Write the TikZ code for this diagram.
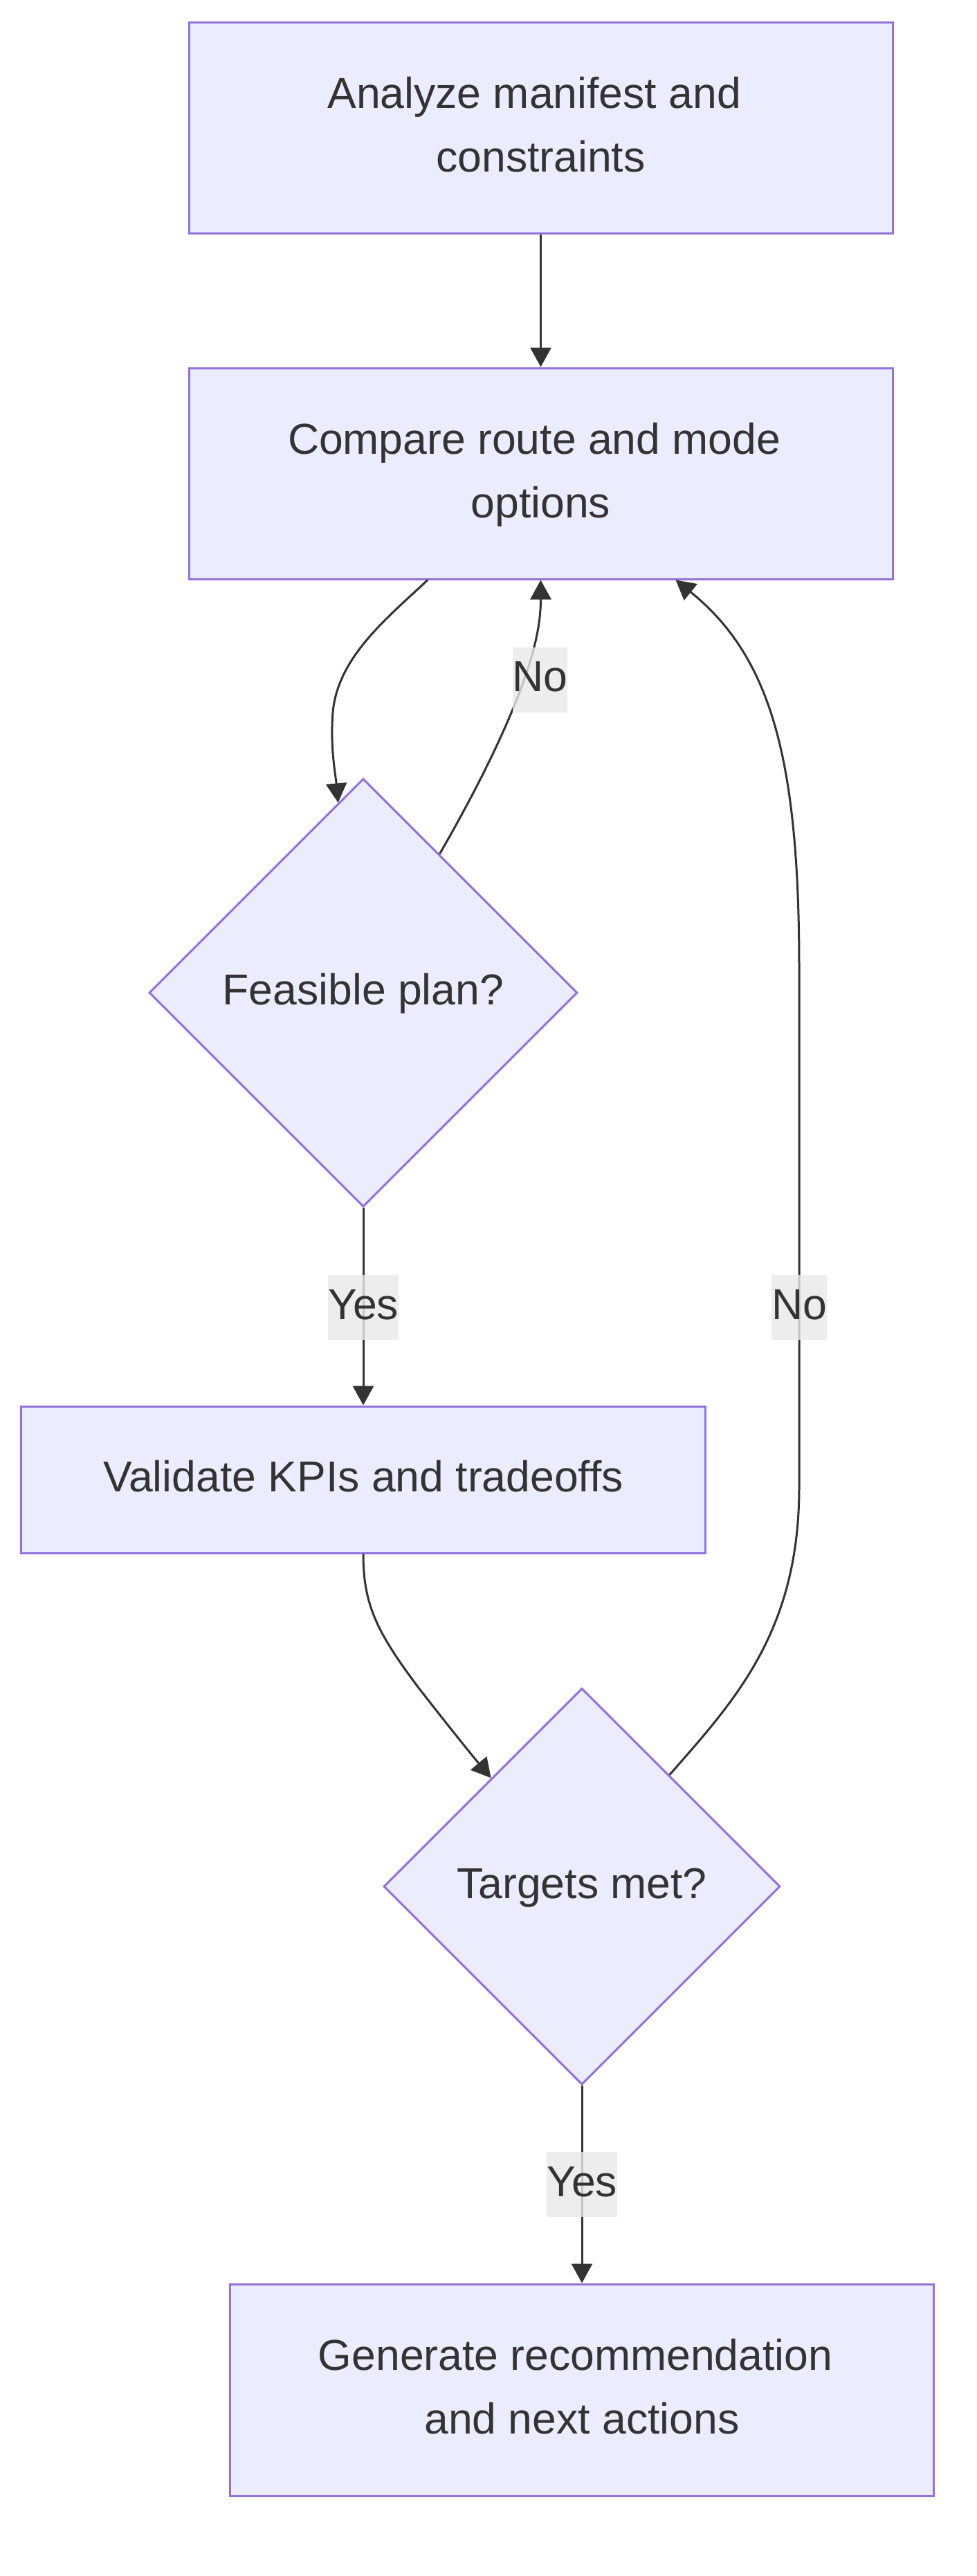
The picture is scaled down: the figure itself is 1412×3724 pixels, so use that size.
\documentclass[tikz,border=0pt]{standalone}
\usepackage{fontspec}
\setmainfont{Liberation Sans}
\usetikzlibrary{shapes.geometric,arrows.meta,calc}
\definecolor{nodefill}{HTML}{ECECFF}
\definecolor{nodeline}{HTML}{9370DB}
\definecolor{edgeline}{HTML}{333333}
\definecolor{labelbg}{HTML}{E8E8E8}
\newcommand{\trail}{\kern0.3em}
\begin{document}
\begin{tikzpicture}[x=1pt,y=-1pt,
  txt/.style={text=edgeline, font=\fontsize{62.5}{92}\selectfont, text height=46pt, text depth=12pt},
  two/.style={text height=139pt, text depth=12pt},
  box/.style={txt, draw=nodeline, fill=nodefill, line width=3pt, align=center, inner sep=0pt},
  dec/.style={txt, diamond, aspect=1, draw=nodeline, fill=nodefill, line width=3pt, align=center, inner sep=0pt},
  edge/.style={draw=edgeline, line width=3pt, -{Triangle[length=28pt,width=30pt]}},
  lbl/.style={txt, fill=labelbg, fill opacity=0.8, text opacity=1, inner xsep=0pt, inner ysep=0pt, minimum height=94pt}
]
\useasboundingbox (0,0) rectangle (1412,3724);

\node[box, two, minimum width=1017pt, minimum height=305pt] (b1) at (781.5,184.5) {Analyze manifest and\trail\\constraints};
\node[box, two, minimum width=1017pt, minimum height=305pt] (b2) at (781.5,684.5) {Compare route and mode\trail\\options};
\node[dec, minimum width=619pt, minimum height=619pt] (d1) at (525,1435) {Feasible plan?};
\node[box, minimum width=989pt, minimum height=212pt] (b3) at (525,2139) {Validate KPIs and tradeoffs};
\node[dec, minimum width=573pt, minimum height=573pt] (d2) at (841,2727) {Targets met?};
\node[box, two, minimum width=1017pt, minimum height=306pt] (b4) at (841,3455) {Generate recommendation\trail\\and next actions};

% Analyze -> Compare
\draw[edge] (b1) -- (b2);

% Compare -> Feasible
\draw[edge] ([xshift=-163.5pt]b2.south) .. controls (560,893) and (488,950) .. (481,1030)
  .. controls (477,1080) and (485,1120) .. ($(d1.north)!0.117!(d1.west)$);

% Feasible -> Compare (No)
\draw[edge] ($(d1.north)!0.355!(d1.east)$) .. controls (690,1140) and (740,1040) .. (765,960)
  .. controls (778,918) and (781.5,890) .. (b2.south);

% Feasible -> Validate (Yes)
\draw[edge] (d1.south) -- (b3.north);

% Validate -> Targets
\draw[edge] (b3.south) .. controls (525,2320) and (545,2360) .. (605,2440)
  .. controls (640,2485) and (680,2535) .. ($(d2.north)!0.456!(d2.west)$);

% Targets -> Compare (No)
\draw[edge] ($(d2.north)!0.44!(d2.east)$) .. controls (1060,2460) and (1155,2360) .. (1155,2150)
  -- (1155,1400) .. controls (1155,1100) and (1115,950) .. ([xshift=195pt]b2.south);

% Targets -> Generate (Yes)
\draw[edge] (d2.south) -- (b4.north);

% labels
\node[lbl] (l1) at (780.5,982.5) {No};
\node[lbl] (l2) at (525,1890) {Yes};
\node[lbl] (l3) at (1155,1890) {No};
\node[lbl] (l4) at (841,3158) {Yes};
\end{tikzpicture}
\end{document}
